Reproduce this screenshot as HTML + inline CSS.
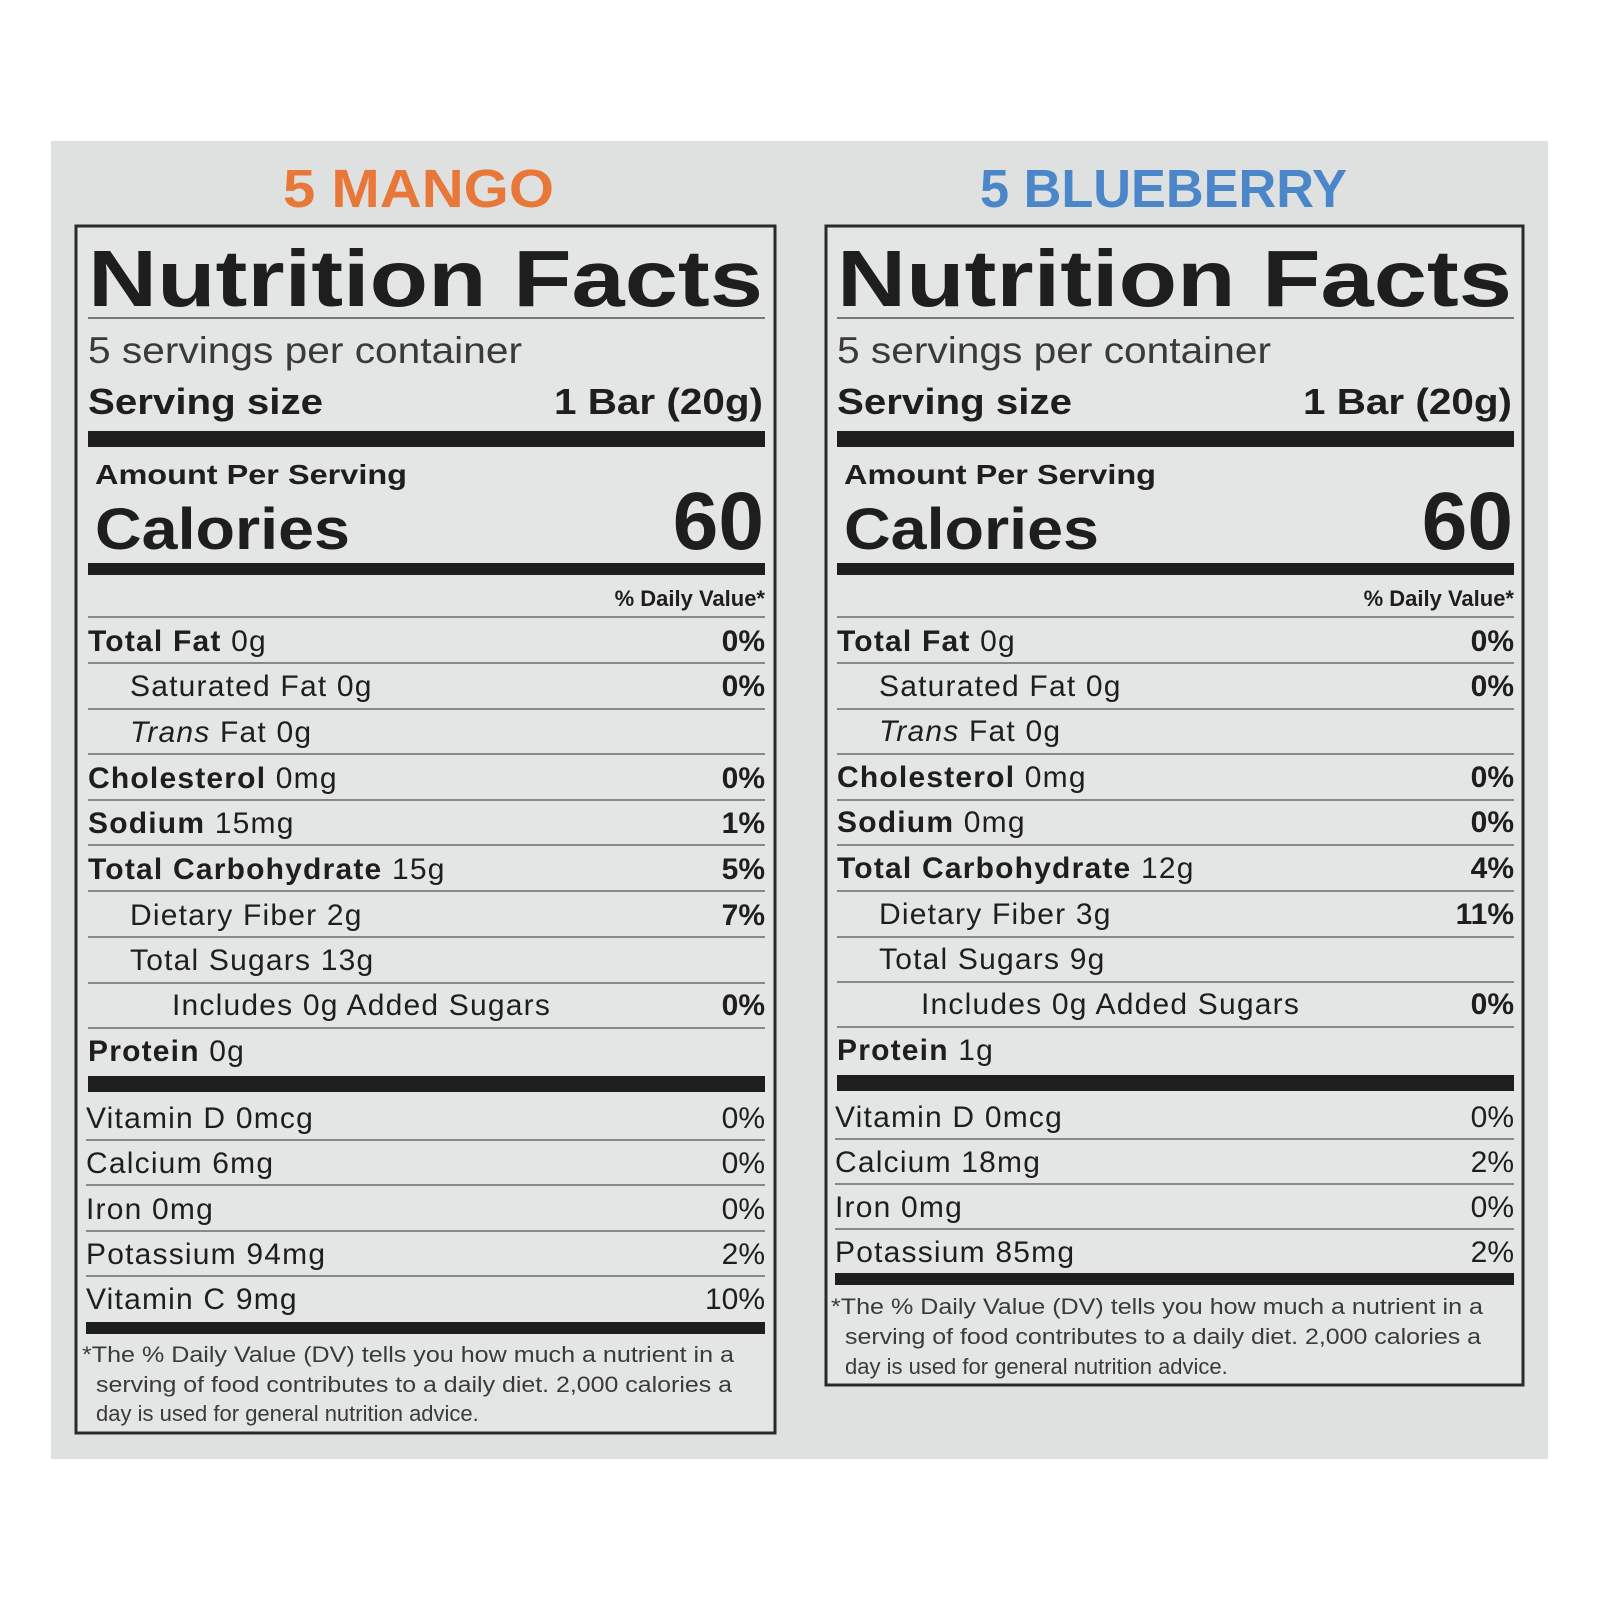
<!DOCTYPE html>
<html><head><meta charset="utf-8"><style>
html,body{margin:0;padding:0;background:#fff;}
svg{display:block;}
text{font-family:"Liberation Sans",Arial,sans-serif;fill:#1e1e1e;}
.b{font-weight:bold;}
.r{text-anchor:end;}
.row{font-size:30px;}
.row text{letter-spacing:1.2px;}
.row text.r{letter-spacing:0;}
.n{fill:#3a3a3a;}
</style></head><body>
<svg width="1600" height="1600" viewBox="0 0 1600 1600" xmlns="http://www.w3.org/2000/svg">
<rect x="0" y="0" width="1600" height="1600" fill="#ffffff"/>
<rect x="51" y="141" width="1497" height="1318" fill="#dfe1e1"/>
<text x="283" y="207" class="b" font-size="54" style="fill:#e8773a" textLength="271" lengthAdjust="spacingAndGlyphs">5 MANGO</text>
<text x="980" y="207" class="b" font-size="54" style="fill:#4a86c8" textLength="367" lengthAdjust="spacingAndGlyphs">5 BLUEBERRY</text>

<!-- LEFT PANEL -->
<g>
<rect x="76" y="226" width="699" height="1207" fill="#e4e6e6" stroke="#2a2a2a" stroke-width="3"/>
<text x="88" y="306" class="b" font-size="80" textLength="675" lengthAdjust="spacingAndGlyphs">Nutrition Facts</text>
<rect x="88" y="317" width="677" height="2" fill="#777"/>
<text x="88" y="363" font-size="37" textLength="434" lengthAdjust="spacingAndGlyphs" class="n">5 servings per container</text>
<text x="88" y="414" class="b" font-size="36" textLength="235" lengthAdjust="spacingAndGlyphs">Serving size</text>
<text x="554" y="414" class="b" font-size="36" textLength="209" lengthAdjust="spacingAndGlyphs">1 Bar (20g)</text>
<rect x="88" y="431" width="677" height="16" fill="#1e1e1e"/>
<text x="95" y="484" class="b" font-size="28" textLength="312" lengthAdjust="spacingAndGlyphs">Amount Per Serving</text>
<text x="95" y="549" class="b" font-size="58" textLength="255" lengthAdjust="spacingAndGlyphs">Calories</text>
<text x="764" y="549" class="b r" font-size="82">60</text>
<rect x="88" y="563" width="677" height="12" fill="#1e1e1e"/>
<text x="765" y="606" class="b r" font-size="22">% Daily Value*</text>
<g fill="#888">
<rect x="88" y="616" width="677" height="2"/>
<rect x="88" y="662" width="677" height="2"/>
<rect x="88" y="708" width="677" height="2"/>
<rect x="88" y="753" width="677" height="2"/>
<rect x="88" y="799" width="677" height="2"/>
<rect x="88" y="844" width="677" height="2"/>
<rect x="88" y="890" width="677" height="2"/>
<rect x="88" y="936" width="677" height="2"/>
<rect x="88" y="982" width="677" height="2"/>
<rect x="88" y="1027" width="677" height="2"/>
</g>
<rect x="88" y="1076" width="677" height="16" fill="#1e1e1e"/>
</g>
<g class="row">
<text x="88" y="651"><tspan class="b">Total Fat</tspan> 0g</text><text x="765" y="651" class="b r">0%</text>
<text x="130" y="696">Saturated Fat 0g</text><text x="765" y="696" class="b r">0%</text>
<text x="130" y="742"><tspan font-style="italic">Trans</tspan> Fat 0g</text>
<text x="88" y="788"><tspan class="b">Cholesterol</tspan> 0mg</text><text x="765" y="788" class="b r">0%</text>
<text x="88" y="833"><tspan class="b">Sodium</tspan> 15mg</text><text x="765" y="833" class="b r">1%</text>
<text x="88" y="879"><tspan class="b">Total Carbohydrate</tspan> 15g</text><text x="765" y="879" class="b r">5%</text>
<text x="130" y="925">Dietary Fiber 2g</text><text x="765" y="925" class="b r">7%</text>
<text x="130" y="970">Total Sugars 13g</text>
<text x="172" y="1015">Includes 0g Added Sugars</text><text x="765" y="1015" class="b r">0%</text>
<text x="88" y="1061"><tspan class="b">Protein</tspan> 0g</text>
<text x="86" y="1128">Vitamin D 0mcg</text><text x="765" y="1128" class="r">0%</text>
<text x="86" y="1173">Calcium 6mg</text><text x="765" y="1173" class="r">0%</text>
<text x="86" y="1219">Iron 0mg</text><text x="765" y="1219" class="r">0%</text>
<text x="86" y="1264">Potassium 94mg</text><text x="765" y="1264" class="r">2%</text>
<text x="86" y="1309">Vitamin C 9mg</text><text x="765" y="1309" class="r">10%</text>
</g>
<g fill="#888">
<rect x="86" y="1139" width="679" height="2"/>
<rect x="86" y="1184" width="679" height="2"/>
<rect x="86" y="1230" width="679" height="2"/>
<rect x="86" y="1275" width="679" height="2"/>
</g>
<rect x="86" y="1322" width="679" height="12" fill="#1e1e1e"/>
<g font-size="22">
<text x="82" y="1362" class="n" textLength="652" lengthAdjust="spacingAndGlyphs">*The % Daily Value (DV) tells you how much a nutrient in a</text>
<text x="96" y="1392" class="n" textLength="636" lengthAdjust="spacingAndGlyphs">serving of food contributes to a daily diet. 2,000 calories a</text>
<text x="96" y="1421" class="n">day is used for general nutrition advice.</text>
</g>

<!-- RIGHT PANEL -->
<g transform="translate(749,0)">
<rect x="77" y="226" width="697" height="1159" fill="#e4e6e6" stroke="#2a2a2a" stroke-width="3"/>
<text x="88" y="306" class="b" font-size="80" textLength="675" lengthAdjust="spacingAndGlyphs">Nutrition Facts</text>
<rect x="88" y="317" width="677" height="2" fill="#777"/>
<text x="88" y="363" font-size="37" textLength="434" lengthAdjust="spacingAndGlyphs" class="n">5 servings per container</text>
<text x="88" y="414" class="b" font-size="36" textLength="235" lengthAdjust="spacingAndGlyphs">Serving size</text>
<text x="554" y="414" class="b" font-size="36" textLength="209" lengthAdjust="spacingAndGlyphs">1 Bar (20g)</text>
<rect x="88" y="431" width="677" height="16" fill="#1e1e1e"/>
<text x="95" y="484" class="b" font-size="28" textLength="312" lengthAdjust="spacingAndGlyphs">Amount Per Serving</text>
<text x="95" y="549" class="b" font-size="58" textLength="255" lengthAdjust="spacingAndGlyphs">Calories</text>
<text x="764" y="549" class="b r" font-size="82">60</text>
<rect x="88" y="563" width="677" height="12" fill="#1e1e1e"/>
<text x="765" y="606" class="b r" font-size="22">% Daily Value*</text>
<g fill="#888">
<rect x="88" y="616" width="677" height="2"/>
<rect x="88" y="662" width="677" height="2"/>
<rect x="88" y="708" width="677" height="2"/>
<rect x="88" y="753" width="677" height="2"/>
<rect x="88" y="799" width="677" height="2"/>
<rect x="88" y="844" width="677" height="2"/>
<rect x="88" y="890" width="677" height="2"/>
<rect x="88" y="936" width="677" height="2"/>
<rect x="88" y="981" width="677" height="2"/>
<rect x="88" y="1026" width="677" height="2"/>
</g>
<rect x="88" y="1075" width="677" height="16" fill="#1e1e1e"/>
<g class="row">
<text x="88" y="651"><tspan class="b">Total Fat</tspan> 0g</text><text x="765" y="651" class="b r">0%</text>
<text x="130" y="696">Saturated Fat 0g</text><text x="765" y="696" class="b r">0%</text>
<text x="130" y="741"><tspan font-style="italic">Trans</tspan> Fat 0g</text>
<text x="88" y="787"><tspan class="b">Cholesterol</tspan> 0mg</text><text x="765" y="787" class="b r">0%</text>
<text x="88" y="832"><tspan class="b">Sodium</tspan> 0mg</text><text x="765" y="832" class="b r">0%</text>
<text x="88" y="878"><tspan class="b">Total Carbohydrate</tspan> 12g</text><text x="765" y="878" class="b r">4%</text>
<text x="130" y="924">Dietary Fiber 3g</text><text x="765" y="924" class="b r">11%</text>
<text x="130" y="969">Total Sugars 9g</text>
<text x="172" y="1014">Includes 0g Added Sugars</text><text x="765" y="1014" class="b r">0%</text>
<text x="88" y="1060"><tspan class="b">Protein</tspan> 1g</text>
<text x="86" y="1127">Vitamin D 0mcg</text><text x="765" y="1127" class="r">0%</text>
<text x="86" y="1172">Calcium 18mg</text><text x="765" y="1172" class="r">2%</text>
<text x="86" y="1217">Iron 0mg</text><text x="765" y="1217" class="r">0%</text>
<text x="86" y="1262">Potassium 85mg</text><text x="765" y="1262" class="r">2%</text>
</g>
<g fill="#888">
<rect x="86" y="1138" width="679" height="2"/>
<rect x="86" y="1183" width="679" height="2"/>
<rect x="86" y="1228" width="679" height="2"/>
</g>
<rect x="86" y="1273" width="679" height="12" fill="#1e1e1e"/>
<g font-size="22">
<text x="82" y="1314" class="n" textLength="652" lengthAdjust="spacingAndGlyphs">*The % Daily Value (DV) tells you how much a nutrient in a</text>
<text x="96" y="1344" class="n" textLength="636" lengthAdjust="spacingAndGlyphs">serving of food contributes to a daily diet. 2,000 calories a</text>
<text x="96" y="1374" class="n">day is used for general nutrition advice.</text>
</g>
</g>
</svg>
</body></html>
